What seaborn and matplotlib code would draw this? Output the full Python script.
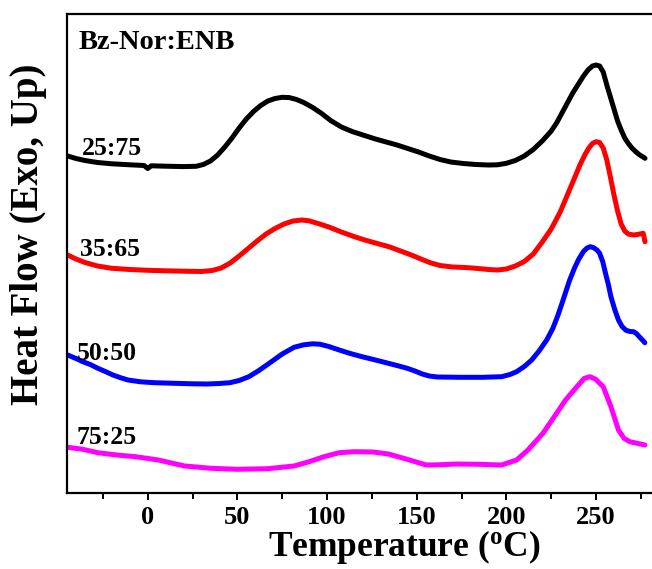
import matplotlib
matplotlib.use("Agg")
import matplotlib.pyplot as plt
from matplotlib.ticker import MultipleLocator, FixedLocator
import seaborn as sns
import pandas as pd

# ---- data: temperature (degC) and heat flow (arb. units, exo up) ----
# heat flow values are 493 - (pixel row)
t_2575 = [-44.6, -40, -35, -28, -20, -10, -2, 0, 2, 10, 20, 27, 31, 35, 39, 43, 47, 51, 55, 59, 63, 67,
          71, 75, 79, 83, 87, 92, 97, 102, 108, 114, 120, 127, 134, 139, 145, 151, 157, 163, 169, 176,
          183, 190, 195, 200, 205, 210, 215, 220, 225, 228, 231, 234, 237, 240, 243, 245.5, 248, 250, 252,
          254, 256, 258, 260, 262, 264, 266, 268, 270, 272, 274, 277.3]
py_2575 = [156, 158.5, 160.5, 162.5, 163.8, 164.8, 165.5, 168.5, 165.8, 166.2, 166.6, 166.3, 164.5, 161,
           155, 147, 138, 128, 119, 111.5, 105.5, 101, 98.5, 97.3, 97.6, 99.5, 102.5, 107.5, 113.5, 120.5,
           127, 131.5, 135, 139, 142.5, 145, 148.5, 152, 156, 159.5, 162, 163.5, 164.5, 165, 164.8, 163.3,
           160.5, 156, 149.5, 141, 131, 123, 113, 103, 93, 84.5, 76, 70, 66, 65, 66, 72, 85, 97, 109, 121,
           130, 138, 143.5, 148, 151.5, 154.5, 158.3]

t_3565 = [-44.6, -40, -35, -28, -20, -10, 0, 10, 20, 30, 36, 41, 46, 51, 56, 61, 66, 71, 76, 81, 86, 90,
          95, 101, 108, 115, 121, 128, 135, 141, 147, 153, 158, 163, 170, 177, 183, 190, 195, 200, 205,
          210, 215, 220, 225, 230, 234, 238, 241, 244, 246, 248, 250, 252, 254, 256, 258, 260, 262, 264,
          266, 268, 270.7, 273, 276.3, 277.3]
py_3565 = [255, 259, 262.5, 266, 268.3, 269.5, 270.3, 270.8, 271.2, 271.5, 270.5, 268, 263, 256, 248.5,
           241, 234, 228.5, 224, 221, 220, 220.8, 223.5, 227, 232, 236.5, 240, 243.5, 247, 251, 255,
           259.5, 263, 265.5, 267, 267.5, 268.3, 269.5, 270, 269, 266, 261.5, 254, 242, 229, 212, 195,
           178, 165, 154, 148, 143.5, 141.7, 142.5, 148, 160, 177, 195, 211, 224, 231, 234, 235, 234.5,
           233.3, 241.7]

t_5050 = [-44.6, -40, -36.2, -32, -27.8, -23, -19.4, -15, -11, -4, 3.7, 15, 25, 33, 40, 45.8, 51, 56.4,
          62, 69, 75, 81.6, 87, 92, 96, 101, 106.8, 113, 119.5, 127, 134.2, 140, 144.7, 149, 153.1, 157,
          161.5, 174.1, 186.7, 197.3, 202, 205.7, 210, 214.1, 218, 222.5, 226, 228.8, 232, 235.1, 238,
          240.4, 243, 245, 246.7, 248.5, 250.5, 252, 253.8, 255.1, 256.8, 258.3, 260.5, 262.5, 264.5,
          266.7, 269, 270.9, 272.5, 274, 275.7, 277.2]
py_5050 = [355, 358.5, 361.7, 364.5, 368.3, 372, 375, 377.8, 380, 381.8, 382.7, 383.3, 383.8, 384, 383.5,
           382.7, 380.5, 376.7, 370.5, 361.7, 354, 347.3, 344.8, 343.8, 344.2, 346.5, 350, 353.5, 356.7,
           360, 363.3, 366, 368.3, 371, 374, 376, 377, 377.3, 377.3, 376.7, 374.5, 371.7, 366.5,
           360, 351.5, 340, 328, 315, 298, 281, 268, 259, 251.5, 248, 246.7, 247.5, 250, 253.3, 262, 272,
           284, 296.7, 310, 320, 326.5, 330.3, 331.5, 331.7, 333.5, 336.5, 339.7, 342.7]

t_7525 = [-44.6, -36.2, -27.8, -17.3, -6.7, 5.9, 20.6, 35.4, 50.1, 66.9, 81.6, 90, 98.3, 106.8, 115.2,
          125.7, 134.2, 144.7, 155.3, 163.7, 172.1, 184.7, 197.3, 205.7, 212, 220.4, 226.7, 233, 239.3,
          243.5, 246.7, 249.8, 254, 258.3, 262.5, 265.6, 268.8, 273, 277.2]
py_7525 = [447.3, 449.3, 452.7, 455, 456.7, 460, 466, 468.3, 469.3, 468.7, 466, 461.7, 456.7, 452.7, 451.7,
           452, 454, 459.3, 465, 464.7, 464, 464.3, 465, 460, 450, 433.3, 416.7, 400, 386.7, 378.3,
           376.7, 379.3, 386.7, 406.7, 430, 438.3, 441.7, 443.3, 445]

ratios = ["25:75", "35:65", "50:50", "75:25"]
colors = ["#000000", "#ff0000", "#0000ff", "#ff00ff"]
label_x = [-36.6, -37.5, -39.5, -39.5]
label_y = [344.5, 243, 139.5, 55.5]
x_ticks = [0, 50, 100, 150, 200, 250]
BASE = 493

# ---- build tidy frame ----
frames = []
for name, t, py in zip(ratios, [t_2575, t_3565, t_5050, t_7525], [py_2575, py_3565, py_5050, py_7525]):
    frames.append(pd.DataFrame({"T": t, "h": [BASE - v for v in py], "ratio": name}))
df = pd.concat(frames, ignore_index=True)

sns.set_style("ticks")
plt.rcParams["font.family"] = ["Liberation Serif", "DejaVu Serif"]
plt.rcParams["font.weight"] = "bold"
plt.rcParams["text.color"] = "black"
plt.rcParams["axes.labelcolor"] = "black"
plt.rcParams["xtick.color"] = "black"
plt.rcParams["ytick.color"] = "black"
plt.rcParams["axes.edgecolor"] = "black"
plt.rcParams["mathtext.fontset"] = "custom"
plt.rcParams["mathtext.rm"] = "Liberation Serif:bold"
plt.rcParams["mathtext.bf"] = "Liberation Serif:bold"
plt.rcParams["mathtext.it"] = "Liberation Serif:bold"

fig = plt.figure(figsize=(6.52, 5.69), dpi=100)
ax = fig.add_axes([67 / 652, 76 / 569, 585 / 652, 479 / 569])

sns.lineplot(data=df, x="T", y="h", hue="ratio", palette=dict(zip(ratios, colors)),
             sort=False, estimator=None, legend=False, linewidth=3.6, ax=ax)
for ln in ax.lines:
    ln.set_solid_joinstyle("round")
    ln.set_solid_capstyle("round")

ax.set_xlim(-45, 281.2)
ax.set_ylim(0, 479)

for name, x, y in zip(ratios, label_x, label_y):
    ax.text(x, y, name, fontsize=18.5, fontweight="bold", ha="left", va="center", color="black")
ax.text(-38.5, 450.5, "Bz-Nor:ENB", fontsize=20.5, fontweight="bold", ha="left", va="center",
        color="black")

ax.xaxis.set_major_locator(FixedLocator(x_ticks))
ax.xaxis.set_minor_locator(MultipleLocator(25))
ax.set_xticklabels([str(v) for v in x_ticks])
ax.set_yticks([])
ax.tick_params(axis="x", which="major", direction="out", length=5, width=1.4,
               labelsize=19, pad=4, colors="black")
ax.tick_params(axis="x", which="minor", direction="out", length=4, width=1.4, colors="black")
for lab in ax.get_xticklabels():
    lab.set_fontweight("bold")

for s in ["left", "top", "bottom"]:
    ax.spines[s].set_linewidth(1.6)
    ax.spines[s].set_color("black")
ax.spines["right"].set_visible(False)

ax.set_xlabel(r"Temperature ($^{\mathrm{o}}$C)", fontsize=25.5, fontweight="bold", color="black")
ax.set_ylabel("Heat Flow (Exo, Up)", fontsize=28, fontweight="bold", color="black")
ax.xaxis.set_label_coords(0.576, -0.074)
ax.yaxis.set_label_coords(-0.034, 0.541)

fig.savefig("out.png", dpi=100)
